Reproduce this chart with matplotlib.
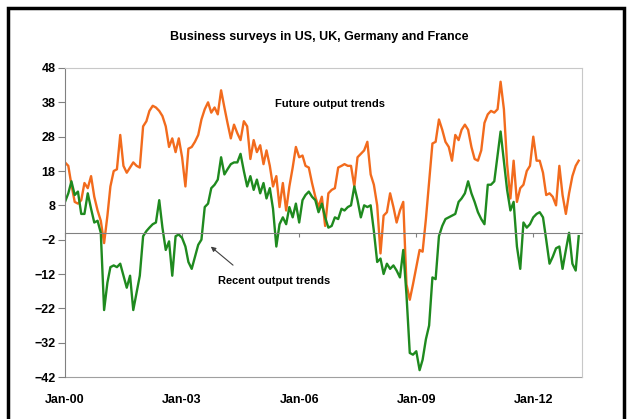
import numpy as np
import pandas as pd
import matplotlib
matplotlib.use("Agg")
import matplotlib.pyplot as plt
import matplotlib.dates as mdates
from matplotlib.patches import Rectangle

# monthly values, Jan-2000 .. Mar-2013, one row per year
future = [
    20.5, 19.5, 14, 9, 8.5, 9.5, 14.5, 13, 16.5, 10.5, 6.5, 3.5,
    -3, 5, 13.5, 18, 18.5, 28.5, 19.5, 17.5, 19, 20.5, 19.5, 19,
    31, 32.5, 35.5, 37, 36.5, 35.5, 34, 31, 25, 27.5, 23.5, 27.5,
    22, 13.5, 24.5, 25, 26.5, 28.5, 33, 36, 38, 35, 36.5, 34.5,
    41.5, 36.5, 32, 27.5, 31.5, 29, 27, 32.5, 31, 21.5, 27, 23.5,
    25.5, 20, 24, 19.5, 13.5, 16.5, 7.5, 14.5, 6.5, 13.5, 19, 25,
    22, 22.5, 19.5, 19, 14.5, 10.5, 7.5, 10.5, 2, 11.5, 12.5, 13,
    19, 19.5, 20, 19.5, 19.5, 13.5, 22, 23, 24, 26.5, 17, 14,
    8, -6, 5, 6, 11.5, 7.5, 3, 6.5, 9, -15, -19.5, -15,
    -10, -5, -5.5, 4, 15, 26, 26.5, 33, 30, 26.5, 25, 21,
    28.5, 27, 30, 31.5, 30, 25, 21.5, 21, 24, 32, 34.5, 35.5,
    35, 36, 44, 36, 20, 10, 21, 9, 13, 14, 18, 19.5,
    28, 21, 21, 17.5, 11, 11.5, 10.5, 8, 19.5, 11, 5.5, 11.5,
    16.5, 19.5, 21,
]
recent = [
    9, 11.5, 15, 11, 12, 5.5, 5.5, 11.5, 7, 3, 3.5, 0,
    -22.5, -14.5, -10, -9.5, -10, -9, -12.5, -16, -12.5, -22.5, -17.5, -12.5,
    -1, 0.5, 1.5, 2.5, 3, 9.5, 1.5, -5, -2.5, -12.5, -1, -0.5,
    -1.5, -4, -8.5, -10.5, -7, -3.5, -2, 7.5, 8.5, 13, 14, 15.5,
    22, 17, 18.5, 20, 20.5, 20.5, 23, 18, 13.5, 16.5, 12.5, 15.5,
    11.5, 14.5, 10, 13, 7, -4, 2.5, 4.5, 2.5, 7.5, 4.5, 8.5,
    3, 9.5, 11, 12, 10.5, 9.5, 6, 8.5, 4.5, 1.5, 2, 4.5,
    4, 7, 6.5, 7.5, 8, 13.5, 9.5, 4.5, 8, 7.5, 8, 0.5,
    -8.5, -7.5, -12, -9, -10.5, -9.5, -11, -13, -5, -18, -35, -35.5,
    -34.5, -40, -37, -31, -27, -13, -13.5, -1, 2, 4, 4.5, 5,
    5.5, 9, 10, 11.5, 15, 11.5, 9, 6, 4, 2.5, 14, 14,
    15, 22.5, 29.5, 21, 12.5, 6.5, 9, -4, -10.5, 3, 1.5, 2.5,
    4.5, 5.5, 6, 4.5, -2, -9, -7, -4.5, -4, -10.5, -5, 0,
    -9, -11, -1,
]
months = pd.date_range("2000-01-01", periods=len(future), freq="MS")
xticks = pd.date_range("2000-01-01", "2012-01-01", freq="36MS")
yticks = list(range(-42, 49, 10))

plt.rcParams["font.family"] = ["Liberation Sans", "DejaVu Sans"]
plt.rcParams["font.weight"] = "bold"

W, H = 629, 419
fig = plt.figure(figsize=(W / 100, H / 100), dpi=100)
ax = fig.add_axes([65 / W, 1 - 377 / H, (582 - 65) / W, (377 - 68) / H])

ax.plot(months, future, color="#F26B1D", lw=1.7)
ax.plot(months, recent, color="#1F8A1F", lw=1.7)

ax.set_ylim(-42, 48)
ax.set_yticks(yticks)
ax.set_xlim(pd.Timestamp("2000-01-01"), pd.Timestamp("2013-04-01"))

# zero line acts as the x axis (ticks only)
ax.spines["bottom"].set_position(("data", 0))
ax.spines["bottom"].set_color("#808080")
ax.set_xticks(xticks)
ax.tick_params(axis="x", direction="out", length=3, color="#808080", labelbottom=False)
for s in ["top", "right"]:
    ax.spines[s].set_color("#c8c8c8")
ax.spines["left"].set_color("#808080")
ax.tick_params(axis="y", length=5, color="#808080", labelsize=9, pad=2)

sec = ax.secondary_xaxis(0)
sec.set_xticks(xticks)
sec.xaxis.set_major_formatter(mdates.DateFormatter("%b-%y"))
sec.tick_params(length=0, pad=12, labelsize=9)
sec.spines["bottom"].set_color("#a0a0a0")

fig.text(0.508, 1 - 37 / H, "Business surveys in US, UK, Germany and France",
         ha="center", va="center", fontsize=9, fontweight="bold")
ax.text(0.513, 0.883, "Future output trends", transform=ax.transAxes,
        ha="center", va="center", fontsize=8, fontweight="bold")
ax.text(0.404, 0.311, "Recent output trends", transform=ax.transAxes,
        ha="center", va="center", fontsize=8, fontweight="bold")
ax.annotate("", xy=(0.282, 0.422), xytext=(0.325, 0.362),
            xycoords="axes fraction", textcoords="axes fraction",
            arrowprops=dict(arrowstyle="-|>", color="#404040", lw=0.8,
                            mutation_scale=7, shrinkA=0, shrinkB=0))

fig.add_artist(Rectangle((8 / W, -0.05), (624 - 8) / W, 1.05 - 8 / H,
                         transform=fig.transFigure, fill=False,
                         ec="black", lw=2.5))

fig.savefig("out.png", dpi=100)
